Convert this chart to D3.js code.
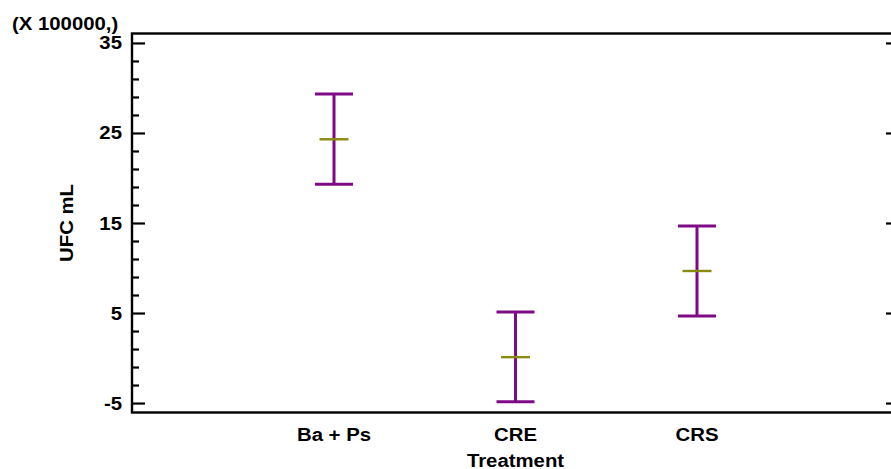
<!DOCTYPE html>
<html>
<head>
<meta charset="utf-8">
<script src="https://cdn.jsdelivr.net/npm/d3@7"></script>
<style>
  html, body { margin: 0; padding: 0; background: #fff; }
  svg { display: block; font-family: "Liberation Sans", Arial, sans-serif; font-weight: bold; }
</style>
</head>
<body>
<svg id="chart" width="891" height="469"></svg>
<script>
// Treatment means with their interval bounds (units of 100000 UFC/mL)
const treatments = ["Ba + Ps", "CRE", "CRS"];
const means = [24.3, 0.1, 9.67];
const lower = [19.3, -4.85, 4.67];
const upper = [29.33, 5.1, 14.67];
const majorTicks = [-5, 5, 15, 25, 35];
const minorTicks = [-3, -1, 1, 3, 7, 9, 11, 13, 17, 19, 21, 23, 27, 29, 31, 33];

const svg = d3.select("#chart");
const plotLeft = 132, plotRight = 899, plotTop = 33.5, plotBottom = 412.5;
const fontSize = 18.5, stretch = 1.1;

const y = d3.scaleLinear().domain([-6.05, 36.05]).range([plotBottom, plotTop]);
const x = d3.scalePoint().domain(treatments).range([plotLeft, plotRight]).padding(1.113);

const purple = "#7f0a85";
const olive = "#8a8a10";

// places a slightly wide bold label at (px, py)
function label(parent, px, py, txt, anchor, rotate) {
  return parent.append("text")
    .attr("transform", `translate(${px},${py})` + (rotate ? ` rotate(${rotate})` : "") + ` scale(${stretch},1)`)
    .attr("text-anchor", anchor || "start")
    .attr("font-size", fontSize)
    .text(txt);
}

// frame
svg.append("rect")
  .attr("x", plotLeft).attr("y", plotTop)
  .attr("width", plotRight - plotLeft).attr("height", plotBottom - plotTop)
  .attr("fill", "none").attr("stroke", "#000").attr("stroke-width", 2.4);

// left axis: major + minor ticks pointing inward
const gl = svg.append("g").attr("transform", `translate(${plotLeft},0)`);
gl.call(d3.axisRight(y).tickValues(majorTicks).tickSize(13).tickFormat(""));
gl.append("g").call(d3.axisRight(y).tickValues(minorTicks).tickSize(7).tickFormat(""));
gl.selectAll(".domain").remove();
gl.selectAll("line").attr("stroke", "#000").attr("stroke-width", 2.2);

// right axis: major ticks only
const gr = svg.append("g").attr("transform", `translate(${plotRight},0)`);
gr.call(d3.axisLeft(y).tickValues(majorTicks).tickSize(13).tickFormat(""));
gr.selectAll(".domain").remove();
gr.selectAll("line").attr("stroke", "#000").attr("stroke-width", 2.2);

// y tick labels
const gy = svg.append("g");
majorTicks.forEach(v => label(gy, plotLeft - 10, y(v) + 6.5, v, "end"));

// scale factor label
label(svg, 12, 29.5, "(X 100000,)");

// y axis title
label(svg, 73, (plotTop + plotBottom) / 2, "UFC mL", "middle", -90);

// x category labels
const gx = svg.append("g");
treatments.forEach(t => label(gx, x(t), 440.5, t, "middle"));

// x axis title
label(svg, x("CRE"), 466.5, "Treatment", "middle");

// interval bars
const rows = treatments.map((t, i) => ({ t, m: means[i], lo: lower[i], hi: upper[i] }));
const capHalf = 19, meanHalf = 14.5;
const g = svg.append("g");
g.selectAll(".stem").data(rows).join("line")
  .attr("x1", d => x(d.t)).attr("x2", d => x(d.t))
  .attr("y1", d => y(d.hi)).attr("y2", d => y(d.lo))
  .attr("stroke", purple).attr("stroke-width", 3);
g.selectAll(".capHi").data(rows).join("line")
  .attr("x1", d => x(d.t) - capHalf).attr("x2", d => x(d.t) + capHalf)
  .attr("y1", d => y(d.hi)).attr("y2", d => y(d.hi))
  .attr("stroke", purple).attr("stroke-width", 3);
g.selectAll(".capLo").data(rows).join("line")
  .attr("x1", d => x(d.t) - capHalf).attr("x2", d => x(d.t) + capHalf)
  .attr("y1", d => y(d.lo)).attr("y2", d => y(d.lo))
  .attr("stroke", purple).attr("stroke-width", 3);
g.selectAll(".mean").data(rows).join("line")
  .attr("x1", d => x(d.t) - meanHalf).attr("x2", d => x(d.t) + meanHalf)
  .attr("y1", d => y(d.m)).attr("y2", d => y(d.m))
  .attr("stroke", olive).attr("stroke-width", 2.4);
</script>
</body>
</html>
